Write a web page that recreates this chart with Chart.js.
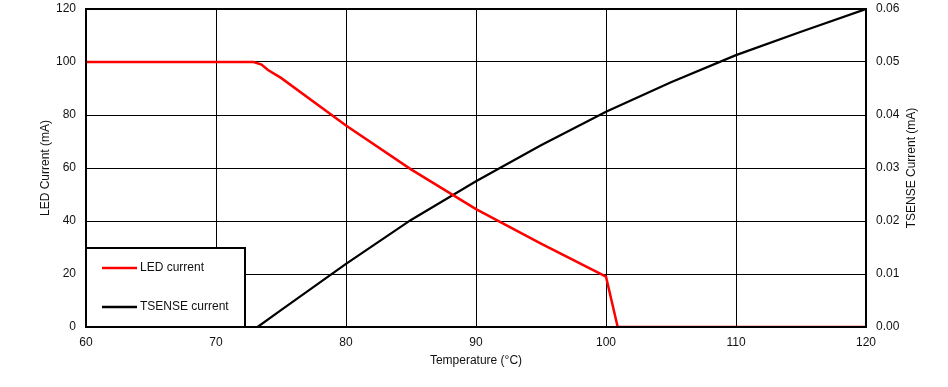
<!DOCTYPE html>
<html>
<head>
<meta charset="utf-8">
<script src="https://cdn.jsdelivr.net/npm/chart.js@4/dist/chart.umd.min.js"></script>
<style>
	html, body { margin: 0; padding: 0; background: #fff; }
	#wrap { width: 948px; height: 387px; }
</style>
</head>
<body>
<div id="wrap"><canvas id="chart"></canvas></div>
<script>
// Dane
const ledTemp = [60, 72.9, 73.5, 74, 75, 80, 85, 90, 95, 100, 100.9, 120];
const ledCurrent = [100, 100, 99, 97, 94, 76, 59.5, 44.5, 31.5, 19, 0, 0];
const tsenseTemp = [73.2, 75, 80, 85, 90, 95, 100, 105, 110, 115, 120];
const tsenseCurrent = [0, 0.0032, 0.0119, 0.0202, 0.0275, 0.0343, 0.0406, 0.0462, 0.0513, 0.0557, 0.06];
const seriesNames = ['LED current', 'TSENSE current'];
const xTitle = 'Temperature (°C)';
const yTitle = 'LED Current (mA)';
const y2Title = 'TSENSE Current (mA)';

const FONT = '"Liberation Sans", Arial, sans-serif';
Chart.defaults.font.family = FONT;
Chart.defaults.font.size = 12;
Chart.defaults.color = '#111';

const toPoints = (xs, ys) => xs.map((x, i) => ({ x, y: ys[i] }));

// Ramka, legenda w lewym dolnym rogu i tytuł prawej osi
const extras = {
	id: 'extras',
	afterDraw(chart) {
		const { ctx, chartArea: a } = chart;
		ctx.save();
		ctx.strokeStyle = '#000';
		ctx.lineWidth = 2;
		ctx.strokeRect(a.left, a.top, a.right - a.left, a.bottom - a.top);

		// legenda
		const lx = a.left, ly = 248, lw = 159, lh = a.bottom - 248;
		ctx.fillStyle = '#fff';
		ctx.fillRect(lx, ly, lw, lh);
		ctx.strokeRect(lx, ly, lw, lh);
		const rows = [268, 307];
		chart.data.datasets.forEach((ds, i) => {
			ctx.strokeStyle = ds.borderColor;
			ctx.lineWidth = 2.5;
			ctx.beginPath();
			ctx.moveTo(lx + 16, rows[i]);
			ctx.lineTo(lx + 51, rows[i]);
			ctx.stroke();
			ctx.fillStyle = '#111';
			ctx.font = '12px ' + FONT;
			ctx.textBaseline = 'middle';
			ctx.fillText(ds.label, lx + 54, rows[i]);
		});

		// tytuł prawej osi (czytany od dołu do góry)
		ctx.translate(912, (a.top + a.bottom) / 2);
		ctx.rotate(-Math.PI / 2);
		ctx.textAlign = 'center';
		ctx.textBaseline = 'middle';
		ctx.fillStyle = '#111';
		ctx.fillText(y2Title, 0, 0);
		ctx.restore();
	},
};

new Chart(document.getElementById('chart'), {
	type: 'line',
	data: {
		datasets: [
			{
				label: seriesNames[0],
				data: toPoints(ledTemp, ledCurrent),
				borderColor: '#ff0000',
				borderWidth: 2.5,
				pointRadius: 0,
				yAxisID: 'y',
			},
			{
				label: seriesNames[1],
				data: toPoints(tsenseTemp, tsenseCurrent),
				borderColor: '#000000',
				borderWidth: 2.2,
				pointRadius: 0,
				yAxisID: 'y2',
			},
		],
	},
	options: {
		responsive: true,
		maintainAspectRatio: false,
		animation: false,
		layout: { padding: { top: 9, left: 0, right: 0, bottom: 0 } },
		plugins: {
			legend: { display: false },
			tooltip: { enabled: false },
		},
		scales: {
			x: {
				type: 'linear',
				min: 60,
				max: 120,
				ticks: { stepSize: 10, padding: 8 },
				grid: { color: '#000', lineWidth: 1, drawTicks: false },
				border: { display: false },
				title: { display: true, text: xTitle, padding: { top: 4, bottom: 19 } },
				afterFit(s) { s.height = 60; s.paddingLeft = 0; s.paddingRight = 0; },
			},
			y: {
				position: 'left',
				min: 0,
				max: 120,
				ticks: { stepSize: 20, padding: 10 },
				grid: { color: '#000', lineWidth: 1, drawTicks: false },
				border: { display: false },
				title: { display: true, text: yTitle, padding: { top: 38, bottom: 4 } },
				afterFit(s) { s.width = 86; s.paddingTop = 0; s.paddingBottom = 0; },
			},
			y2: {
				position: 'right',
				min: 0,
				max: 0.06,
				ticks: { stepSize: 0.01, padding: 10, callback: (v) => v.toFixed(2) },
				grid: { drawOnChartArea: false, drawTicks: false },
				border: { display: false },
				afterFit(s) { s.width = 82; s.paddingTop = 0; s.paddingBottom = 0; },
			},
		},
	},
	plugins: [extras],
});
</script>
</body>
</html>
